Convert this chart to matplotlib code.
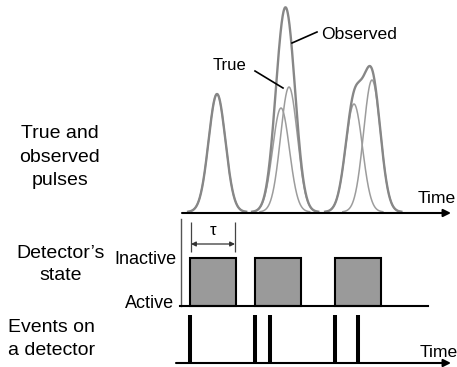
import numpy as np
import matplotlib.pyplot as plt

plt.rcParams['font.family'] = ['Liberation Sans', 'DejaVu Sans']

# times of the photon hits and the dead time (same time units as the drawing)
event_times = [190, 255, 270, 335, 358]
dead_time = 46

# true pulses: centre, amplitude, common width
pulse_centers = [217, 281, 289, 354, 372]
pulse_heights = [118, 104, 125, 108, 132]
pulse_sigma = 8.4

# vertical levels of the three tracks
pulse_base = 212
state_active = 306
state_inactive = 258
event_top, event_base = 315, 363

fig = plt.figure(figsize=(4.57, 3.67), dpi=100)
ax = fig.add_axes([0, 0, 1, 1])
ax.set_xlim(0, 457)
ax.set_ylim(367, 0)
ax.axis('off')

# pulses
t = np.linspace(184, 420, 1200)
observed = np.zeros_like(t)
for c, h in zip(pulse_centers, pulse_heights):
    p = h * np.exp(-0.5 * ((t - c) / pulse_sigma) ** 2)
    observed += p
    m = p > 0.3
    ax.plot(t[m], pulse_base - p[m], color='#9c9c9c', lw=1.1)
m = observed > 0.3
obs = np.where(m, pulse_base - observed, np.nan)
ax.plot(t, obs, color='#878787', lw=1.7)

ax.annotate('', xy=(451, 213), xytext=(182, 213),
            arrowprops=dict(arrowstyle='-|>', lw=1.5, color='k', mutation_scale=11, shrinkA=0, shrinkB=0))

ax.text(321, 39, 'Observed', fontsize=12.6, va='baseline', ha='left')
ax.plot([317, 292], [32, 43], color='k', lw=1.2)
ax.text(213, 70, 'True', fontsize=12, va='baseline', ha='left')
ax.plot([255, 283], [71, 88], color='k', lw=1.2)
ax.text(418, 203, 'Time', fontsize=12.6, va='baseline', ha='left')

# detector state (non-paralyzable dead time)
starts = []
busy_until = -np.inf
for e in event_times:
    if e >= busy_until:
        starts.append(e)
        busy_until = e + dead_time
ax.bar(starts, state_active - state_inactive, bottom=state_inactive, width=dead_time,
       align='edge', color='#9a9a9a', edgecolor='k', lw=1.5, zorder=3)
ax.plot([181, 181], [219, state_active], color='#555555', lw=1.0)
ax.plot([180, 428], [state_active, state_active], color='k', lw=1.5, zorder=4)

# dead time marker
t0 = starts[0]
ax.vlines([t0 + 1, t0 + dead_time - 1], 222, 252, color='#444444', lw=0.9)
ax.annotate('', xy=(t0 + dead_time - 1, 244), xytext=(t0 + 1, 244),
            arrowprops=dict(arrowstyle='<|-|>', lw=0.9, color='#333333', mutation_scale=7, shrinkA=0, shrinkB=0))
ax.text(t0 + dead_time / 2, 235, 'τ', fontsize=12, ha='center', va='baseline')

ax.text(177, 264, 'Inactive', fontsize=13, ha='right', va='baseline')
ax.text(174, 308, 'Active', fontsize=13, ha='right', va='baseline')

# events
ax.vlines(event_times, event_top, event_base, color='k', lw=2.9)
ax.annotate('', xy=(451, event_base), xytext=(176, event_base),
            arrowprops=dict(arrowstyle='-|>', lw=1.5, color='k', mutation_scale=11, shrinkA=0, shrinkB=0))
ax.text(420, 357, 'Time', fontsize=12.6, va='baseline', ha='left')

# track titles
for txt, y in [('True and', 138), ('observed', 162), ('pulses', 185)]:
    ax.text(60, y, txt, fontsize=14, ha='center', va='baseline')
for txt, y in [('Detector\u2019s', 258), ('state', 280)]:
    ax.text(61, y, txt, fontsize=14, ha='center', va='baseline')
for txt, y in [('Events on', 332), ('a detector', 355)]:
    ax.text(8, y, txt, fontsize=14, ha='left', va='baseline')

fig.savefig('out.png', dpi=100)
